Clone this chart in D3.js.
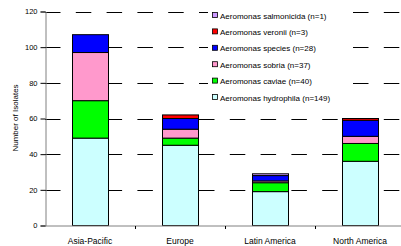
<!DOCTYPE html>
<html>
<head>
<meta charset="utf-8">
<script src="https://cdn.jsdelivr.net/npm/d3@7/dist/d3.min.js"></script>
<style>
  body { margin: 0; background: #fff; }
  svg { display: block; font-family: "Liberation Sans", Arial, sans-serif; }
</style>
</head>
<body>
<svg id="chart" width="401" height="246"></svg>
<script>
var regions = ['Asia-Pacific', 'Europe', 'Latin America', 'North America'];
var species = ['hydrophila', 'caviae', 'sobria', 'species', 'veronii', 'salmonicida'];
var labels = ['Aeromonas hydrophila (n=149)', 'Aeromonas caviae (n=40)', 'Aeromonas sobria (n=37)',
  'Aeromonas species (n=28)', 'Aeromonas veronii (n=3)', 'Aeromonas salmonicida (n=1)'];
var colors = ['#ccffff', '#00ff00', '#ff99cc', '#0000ff', '#ff0000', '#cc99ff'];

// counts per region, in the order of species above
var hydrophila = [49, 45, 19, 36];
var caviae = [21, 4, 5, 10];
var sobria = [27, 5, 1, 4];
var speciesSp = [10, 6, 3, 9];
var veronii = [0, 2, 0, 1];
var salmonicida = [0, 0, 1, 0];
var yTicks = [0, 20, 40, 60, 80, 100, 120];

var series = [hydrophila, caviae, sobria, speciesSp, veronii, salmonicida];
var rows = regions.map(function(r, i) {
  var o = { region: r };
  species.forEach(function(s, j) { o[s] = series[j][i]; });
  return o;
});

var svg = d3.select('#chart');
var x = d3.scaleBand().domain(regions).range([45, 405]).paddingInner(0.6).paddingOuter(0.3);
var y = d3.scaleLinear().domain([0, 120]).range([225.5, 11.5]);

// dashed gridlines
svg.append('g').selectAll('line').data(yTicks.filter(function(d) { return d > 0; }))
  .enter().append('line')
  .attr('x1', 45).attr('x2', 401)
  .attr('y1', function(d) { return Math.round(y(d)) + 0.5; })
  .attr('y2', function(d) { return Math.round(y(d)) + 0.5; })
  .attr('stroke', '#000').attr('stroke-width', 1)
  .attr('stroke-dasharray', '15.5,15.3');

// stacked bars
var stack = d3.stack().keys(species)(rows);
svg.append('g').selectAll('g').data(stack).enter().append('g')
  .attr('fill', function(d, i) { return colors[i]; })
  .selectAll('rect').data(function(d) { return d.filter(function(p) { return p[1] > p[0]; }); })
  .enter().append('rect')
  .attr('x', function(d) { return Math.round(x(d.data.region)) + 0.5; })
  .attr('width', x.bandwidth())
  .attr('y', function(d) { return y(d[1]); })
  .attr('height', function(d) { return y(d[0]) - y(d[1]); })
  .attr('stroke', '#000').attr('stroke-width', 1);

// y axis
var yAxis = svg.append('g').attr('transform', 'translate(45.5,0)')
  .call(d3.axisLeft(y).tickValues(yTicks).tickSize(5).tickPadding(3));
yAxis.select('.domain').attr('stroke', '#808080');
yAxis.selectAll('.tick line').attr('stroke', '#000');
yAxis.selectAll('text').attr('font-size', '7.5px').attr('fill', '#000')
  .attr('font-family', '"Liberation Sans", Arial, sans-serif');

// x axis
var xAxis = svg.append('g').attr('transform', 'translate(0,' + (y(0) + 0.5) + ')');
xAxis.append('line').attr('x1', 45).attr('x2', 401).attr('stroke', '#808080');
xAxis.selectAll('.sep').data(regions.slice(1)).enter().append('line')
  .attr('x1', function(d) { return Math.round(x(d) - x.step() * 0.3) + 0.5; })
  .attr('x2', function(d) { return Math.round(x(d) - x.step() * 0.3) + 0.5; })
  .attr('y1', 0).attr('y2', 3).attr('stroke', '#000');
xAxis.selectAll('text').data(regions).enter().append('text')
  .attr('x', function(d) { return x(d) + x.bandwidth() / 2; })
  .attr('y', 18).attr('text-anchor', 'middle')
  .attr('font-size', '8.5px').text(function(d) { return d; });

// y title
svg.append('text').attr('transform', 'translate(18,118) rotate(-90)')
  .attr('text-anchor', 'middle').attr('font-size', '8px').text('Number of Isolates');

// legend
var legend = svg.append('g');
legend.append('rect').attr('x', 208).attr('y', 6).attr('width', 143).attr('height', 99).attr('fill', '#fff');
var items = legend.selectAll('.item').data(species.slice().reverse()).enter().append('g')
  .attr('transform', function(d, i) { return 'translate(212,' + (16 + i * 16.4) + ')'; });
items.append('rect').attr('x', 0.5).attr('y', -3.5).attr('width', 5).attr('height', 5)
  .attr('fill', function(d) { return colors[species.indexOf(d)]; })
  .attr('stroke', '#000').attr('stroke-width', 0.8);
items.append('text').attr('x', 8).attr('y', 2.5).attr('font-size', '8px')
  .text(function(d) { return labels[species.indexOf(d)]; });
</script>
</body>
</html>
